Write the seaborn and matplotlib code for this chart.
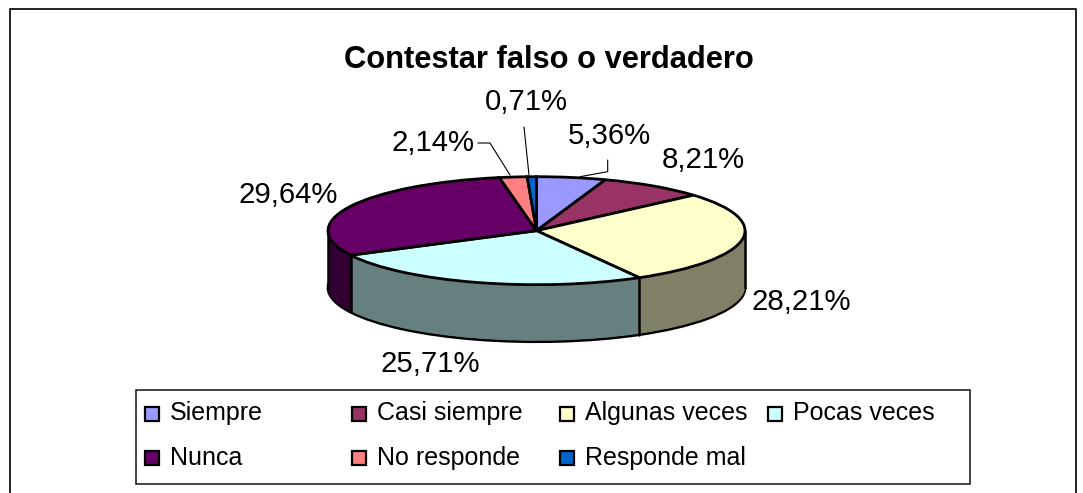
import numpy as np
import seaborn as sns
import matplotlib
matplotlib.use("Agg")
import matplotlib.pyplot as plt
from matplotlib.patches import Rectangle

categorias = ["Siempre", "Casi siempre", "Algunas veces", "Pocas veces", "Nunca", "No responde", "Responde mal"]
porcentajes = [5.36, 8.21, 28.21, 25.71, 29.64, 2.14, 0.71]
colores = ["#9999FF", "#993366", "#FFFFCC", "#CCFFFF", "#660066", "#FF8080", "#0066CC"]
titulo = "Contestar falso o verdadero"

sns.set_theme(style="white")
plt.rcParams["font.family"] = ["Liberation Sans", "DejaVu Sans"]

W, H = 1083, 493
fig = plt.figure(figsize=(W / 100, H / 100), dpi=100, facecolor="white")

# geometria de la torta en pixeles
cx, cy, rx, ry, prof = 536.5, 230.7, 208.5, 54, 57

ax_pie = fig.add_axes([0, 0, 1, 1])
ax_pie.axis("off")

oscuros = [tuple(c * 0.5 for c in matplotlib.colors.to_rgb(col)) for col in colores]

# base con borde negro
ax_pie.pie(porcentajes, colors=oscuros, startangle=90, counterclock=False, center=(0, -prof / ry),
           wedgeprops={"edgecolor": "black", "linewidth": 2})
# paredes laterales
for d in np.arange(prof - 1, 0, -1):
    ax_pie.pie(porcentajes, colors=oscuros, startangle=90, counterclock=False, center=(0, -d / ry),
               wedgeprops={"linewidth": 0})
# cara superior
ax_pie.pie(porcentajes, colors=colores, startangle=90, counterclock=False,
           wedgeprops={"edgecolor": "black", "linewidth": 2})

ax_pie.set_aspect("auto")
ax_pie.set_xlim(-cx / rx, (W - cx) / rx)
ax_pie.set_ylim((cy - H) / ry, cy / ry)

# lineas verticales en los cortes visibles
acum = np.cumsum(porcentajes) / sum(porcentajes) * 2 * np.pi
for ang in [acum[2], acum[3], np.pi / 2, 3 * np.pi / 2]:
    x, y = np.sin(ang), np.cos(ang)
    ax_pie.plot([x, x], [y, y - prof / ry], color="black", lw=1.8, zorder=5)

# capa en pixeles para textos, marco y leyenda
ax = fig.add_axes([0, 0, 1, 1])
ax.set_xlim(0, W)
ax.set_ylim(H, 0)
ax.axis("off")
ax.patch.set_alpha(0)

# marco exterior, abierto abajo
ax.plot([10, 10, 1076, 1076], [H, 9, 9, H], color="#222222", lw=1.4)

ax.text(549, 68, titulo, ha="center", va="baseline", fontsize=22.2, fontweight="bold", color="black")

etiquetas = [f"{v:.2f}%".replace(".", ",") for v in porcentajes]
pos_etiquetas = [(609, 144), (703, 168), (801, 310), (430, 372), (288, 203), (433, 151), (526, 110)]
for txt, (x, y) in zip(etiquetas, pos_etiquetas):
    ax.text(x, y, txt, ha="center", va="baseline", fontsize=21.2, color="black")

# lineas guia
guias = [
    ([478, 490, 510], [143, 143, 175]),
    ([524, 529], [127, 175]),
    ([607.7, 607.7, 580], [160, 171.7, 176.7]),
]
for xs, ys in guias:
    ax.plot(xs, ys, color="black", lw=0.8)

# leyenda
ax.add_patch(Rectangle((135.5, 389.5), 834.5, 94.5, facecolor="white", edgecolor="#222222", lw=1.2))
col_x = [145, 352, 560, 768]
fila_y = [414, 458]
base_y = [420, 465]
orden = [(0, 0), (1, 0), (2, 0), (3, 0), (0, 1), (1, 1), (2, 1)]
for nombre, color, (c, f) in zip(categorias, colores, orden):
    ax.add_patch(Rectangle((col_x[c], fila_y[f] - 7), 14, 14, facecolor=color, edgecolor="black", lw=1.6))
    ax.text(col_x[c] + 25, base_y[f], nombre, ha="left", va="baseline", fontsize=18, color="black")

fig.savefig("out.png", dpi=100)
